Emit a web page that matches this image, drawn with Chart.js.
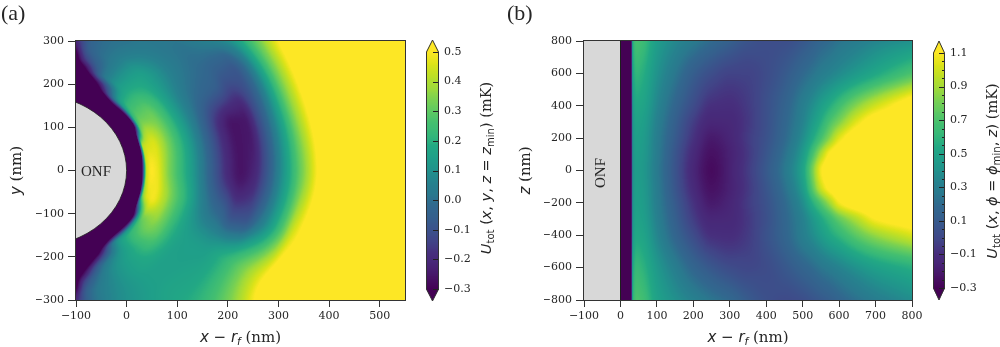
<!DOCTYPE html>
<html>
<head>
<meta charset="utf-8">
<script src="https://cdn.jsdelivr.net/npm/chart.js@4.4.1/dist/chart.umd.min.js"></script>
<style>
  html, body { margin: 0; padding: 0; background: #fff; }
  #wrap { position: relative; width: 1000px; height: 347px; overflow: hidden; }
  #wrap canvas { position: absolute; left: 0; top: 0; }
</style>
</head>
<body>
<div id="wrap">
  <canvas id="panelA" width="1000" height="347"></canvas>
  <canvas id="barA" width="1000" height="347"></canvas>
  <canvas id="panelB" width="1000" height="347"></canvas>
  <canvas id="barB" width="1000" height="347"></canvas>
</div>
<script>
// ---------- panel (a): U_tot(x, y, z = z_min) in mK ----------
// sampled on a polar grid around the fibre axis: angle (deg) x depth from the fibre surface (nm)
const fiberRadiusA = 175;          // nm, fibre cross-section seen in the x-y plane
const angleGridA = [78, 70, 60, 45, 30, 15, 0, -15, -30, -45, -60, -70, -78];
const depthGridA = [0, 20, 30, 40, 50, 60, 80, 100, 125, 150, 175, 200, 225, 250, 275, 300, 325, 350, 400, 450, 550, 750];
const potentialA = [
  [-0.6, -0.6, -0.6, -0.6, -0.6, -0.6, -0.6, -0.6, -0.35, -0.2, -0.1, -0.04, 0.0, 0.03, 0.06, 0.1, 0.14, 0.18, 0.28, 0.4, 0.6, 0.6],
  [-0.6, -0.6, -0.6, -0.6, -0.6, -0.55, -0.35, -0.15, -0.05, -0.03, -0.02, 0.0, 0.02, 0.05, 0.08, 0.12, 0.16, 0.2, 0.28, 0.4, 0.6, 0.6],
  [-0.6, -0.6, -0.6, -0.55, -0.4, -0.27, 0.0, 0.02, 0.03, 0.02, 0.01, 0.02, 0.03, 0.05, 0.08, 0.12, 0.16, 0.2, 0.3, 0.45, 0.6, 0.6],
  [-0.6, -0.6, -0.5, -0.25, 0.1, 0.17, 0.19, 0.18, 0.15, 0.1, 0.05, 0.02, 0.01, 0.03, 0.07, 0.12, 0.18, 0.25, 0.4, 0.55, 0.6, 0.6],
  [-0.6, -0.6, -0.6, -0.35, 0.25, 0.32, 0.32, 0.26, 0.15, 0.06, 0.0, -0.03, -0.05, -0.09, -0.09, 0.0, 0.17, 0.33, 0.55, 0.6, 0.6, 0.6],
  [-0.6, -0.6, -0.5, 0.42, 0.45, 0.46, 0.38, 0.28, 0.16, 0.04, -0.08, -0.2, -0.26, -0.25, -0.12, 0.03, 0.2, 0.37, 0.58, 0.6, 0.6, 0.6],
  [-0.6, -0.6, -0.32, 0.45, 0.5, 0.48, 0.36, 0.26, 0.15, 0.03, -0.09, -0.2, -0.26, -0.22, -0.1, 0.05, 0.2, 0.35, 0.58, 0.6, 0.6, 0.6],
  [-0.6, -0.6, -0.45, 0.35, 0.47, 0.49, 0.41, 0.31, 0.2, 0.09, 0.01, -0.04, -0.11, -0.1, 0.0, 0.12, 0.27, 0.45, 0.6, 0.6, 0.6, 0.6],
  [-0.6, -0.6, -0.5, -0.3, 0.15, 0.3, 0.34, 0.3, 0.2, 0.15, 0.14, 0.14, 0.17, 0.22, 0.29, 0.37, 0.46, 0.55, 0.6, 0.6, 0.6, 0.6],
  [-0.6, -0.6, -0.5, -0.2, 0.1, 0.15, 0.17, 0.18, 0.17, 0.15, 0.15, 0.16, 0.17, 0.19, 0.22, 0.26, 0.3, 0.35, 0.45, 0.55, 0.6, 0.6],
  [-0.6, -0.6, -0.6, -0.5, -0.38, -0.22, 0.0, 0.06, 0.08, 0.09, 0.1, 0.11, 0.12, 0.14, 0.17, 0.2, 0.24, 0.28, 0.38, 0.5, 0.6, 0.6],
  [-0.6, -0.6, -0.6, -0.6, -0.6, -0.5, -0.3, -0.12, -0.02, 0.0, 0.02, 0.04, 0.06, 0.08, 0.11, 0.14, 0.18, 0.22, 0.3, 0.42, 0.6, 0.6],
  [-0.6, -0.6, -0.6, -0.6, -0.6, -0.6, -0.6, -0.6, -0.35, -0.2, -0.1, -0.04, 0.0, 0.03, 0.06, 0.1, 0.15, 0.2, 0.3, 0.42, 0.6, 0.6]
];
const xTicksA = [-100, 0, 100, 200, 300, 400, 500];
const yTicksA = [-300, -200, -100, 0, 100, 200, 300];
const barTicksA = [-0.3, -0.2, -0.1, 0.0, 0.1, 0.2, 0.3, 0.4, 0.5];

// ---------- panel (b): U_tot(x, phi = phi_min, z) in mK ----------
const xGridB = [0, 28, 34, 45, 60, 100, 150, 200, 250, 300, 350, 400, 450, 500, 525, 550, 575, 600, 650, 700, 800];
const zGridB = [800, 600, 400, 300, 200, 100, 0, -100, -200, -300, -400, -600, -800];
const potentialB = [
  [-0.5, -0.5, 0.55, 0.68, 0.65, 0.47, 0.36, 0.28, 0.2, 0.13, 0.06, 0.03, 0.03, 0.08, 0.12, 0.17, 0.2, 0.24, 0.29, 0.34, 0.4],
  [-0.5, -0.5, 0.5, 0.6, 0.57, 0.41, 0.26, 0.12, 0.03, -0.02, -0.02, 0.02, 0.09, 0.19, 0.24, 0.29, 0.33, 0.37, 0.45, 0.53, 0.7],
  [-0.5, -0.5, 0.43, 0.53, 0.51, 0.35, 0.17, 0.02, -0.09, -0.1, -0.05, 0.04, 0.15, 0.3, 0.38, 0.47, 0.56, 0.66, 0.85, 1.0, 1.2],
  [-0.5, -0.5, 0.41, 0.5, 0.48, 0.32, 0.13, -0.04, -0.14, -0.13, -0.06, 0.04, 0.17, 0.33, 0.44, 0.56, 0.7, 0.82, 1.05, 1.18, 1.25],
  [-0.5, -0.5, 0.4, 0.48, 0.46, 0.3, 0.1, -0.08, -0.2, -0.15, -0.05, 0.05, 0.19, 0.38, 0.52, 0.68, 0.86, 1.04, 1.2, 1.25, 1.3],
  [-0.5, -0.5, 0.39, 0.47, 0.45, 0.29, 0.07, -0.12, -0.24, -0.17, -0.06, 0.07, 0.23, 0.45, 0.66, 0.92, 1.12, 1.2, 1.25, 1.3, 1.3],
  [-0.5, -0.5, 0.38, 0.46, 0.44, 0.28, 0.06, -0.14, -0.26, -0.17, -0.05, 0.09, 0.26, 0.5, 0.78, 1.08, 1.2, 1.25, 1.3, 1.3, 1.3],
  [-0.5, -0.5, 0.39, 0.47, 0.45, 0.29, 0.07, -0.12, -0.24, -0.17, -0.06, 0.07, 0.23, 0.46, 0.72, 1.0, 1.15, 1.22, 1.27, 1.3, 1.3],
  [-0.5, -0.5, 0.4, 0.48, 0.46, 0.3, 0.1, -0.08, -0.2, -0.15, -0.05, 0.05, 0.19, 0.38, 0.55, 0.72, 0.9, 1.08, 1.2, 1.25, 1.3],
  [-0.5, -0.5, 0.41, 0.5, 0.48, 0.32, 0.13, -0.04, -0.14, -0.13, -0.06, 0.04, 0.17, 0.32, 0.42, 0.53, 0.64, 0.76, 0.94, 1.1, 1.2],
  [-0.5, -0.5, 0.43, 0.53, 0.51, 0.35, 0.17, 0.02, -0.09, -0.1, -0.05, 0.05, 0.16, 0.3, 0.37, 0.45, 0.53, 0.6, 0.75, 0.87, 1.02],
  [-0.5, -0.5, 0.52, 0.62, 0.59, 0.44, 0.3, 0.17, 0.08, 0.02, 0.0, 0.02, 0.08, 0.16, 0.2, 0.25, 0.29, 0.33, 0.41, 0.48, 0.57],
  [-0.5, -0.5, 0.57, 0.7, 0.67, 0.5, 0.4, 0.32, 0.25, 0.19, 0.1, 0.04, 0.01, 0.03, 0.06, 0.09, 0.12, 0.16, 0.23, 0.29, 0.38]
];
const xTicksB = [-100, 0, 100, 200, 300, 400, 500, 600, 700, 800];
const zTicksB = [-800, -600, -400, -200, 0, 200, 400, 600, 800];
const barTicksB = [-0.3, -0.1, 0.1, 0.3, 0.5, 0.7, 0.9, 1.1];
const barMinorB = [-0.25, -0.2, -0.15, -0.05, 0.0, 0.05, 0.15, 0.2, 0.25, 0.35, 0.4, 0.45, 0.55, 0.6, 0.65, 0.75, 0.8, 0.85, 0.95, 1.0, 1.05];
const fiberEdgeB = [-100, 0];     // nm, fibre region in the x-z plane

// ---------- viridis colour map ----------
const viridis = ['#440154','#471365','#482475','#472f7d','#414487','#3b528b','#355f8d','#31688e','#2a788e','#26828e',
                 '#21918c','#1f9e89','#22a884','#35b779','#44bf70','#5ec962','#7ad151','#a0da39','#bddf26','#dde318','#fde725'];
const lut = (() => {
  const rgb = viridis.map(h => [1, 3, 5].map(i => parseInt(h.substr(i, 2), 16)));
  const out = [];
  for (let k = 0; k < 256; k++) {
    const p = k / 255 * (rgb.length - 1), i = Math.min(Math.floor(p), rgb.length - 2), f = p - i;
    out.push(rgb[i].map((c, n) => Math.round(c + (rgb[i + 1][n] - c) * f)));
  }
  return out;
})();
function colorOf(v, vmin, vmax) {
  let t = (v - vmin) / (vmax - vmin);
  t = Math.max(0, Math.min(1, t));
  return lut[Math.round(t * 255)];
}

const INK = '#262626';
const SERIF = '"DejaVu Serif", serif';
const SANS = '"DejaVu Sans", sans-serif';
const TIMES = '"Liberation Serif", "Times New Roman", serif';
const minusFmt = v => (v < 0 ? '\u2212' : '') + Math.abs(v);
const barFmt = v => (v < -1e-9 ? '\u2212' : '') + Math.abs(v).toFixed(1);

// text made of runs with their own fonts (italic symbols, subscripts)
function drawRuns(ctx, runs, x, y, angle) {
  ctx.save();
  ctx.translate(x, y);
  ctx.rotate(angle || 0);
  ctx.fillStyle = INK;
  ctx.textBaseline = 'alphabetic';
  ctx.textAlign = 'left';
  let w = 0;
  runs.forEach(r => { ctx.font = r.f; r.w = ctx.measureText(r.t).width; w += r.w; });
  let cx = -w / 2;
  runs.forEach(r => { ctx.font = r.f; ctx.fillText(r.t, cx, r.dy || 0); cx += r.w; });
  ctx.restore();
}
function mathRuns(size) {
  return {
    it: t => ({ t, f: `italic ${size}px ${SANS}` }),
    rm: t => ({ t, f: `${size}px ${SANS}` }),
    sub: t => ({ t, f: `${(size * 0.7).toFixed(1)}px ${SANS}`, dy: size * 0.22 }),
    subIt: t => ({ t, f: `italic ${(size * 0.7).toFixed(1)}px ${SANS}`, dy: size * 0.22 }),
    txt: t => ({ t, f: `${size}px ${SERIF}` })
  };
}

// ---------- smooth shading of a gridded field (monotone cubic, no overshoot) ----------
function pchipSlopes(xs, ys) {
  const n = xs.length, h = [], d = [], m = new Array(n);
  for (let i = 0; i < n - 1; i++) { h[i] = xs[i + 1] - xs[i]; d[i] = (ys[i + 1] - ys[i]) / h[i]; }
  m[0] = d[0]; m[n - 1] = d[n - 2];
  for (let i = 1; i < n - 1; i++) {
    if (d[i - 1] * d[i] <= 0) m[i] = 0;
    else {
      const w1 = 2 * h[i] + h[i - 1], w2 = h[i] + 2 * h[i - 1];
      m[i] = (w1 + w2) / (w1 / d[i - 1] + w2 / d[i]);
    }
  }
  return m;
}
function pchipAt(xs, ys, m, x) {
  const n = xs.length;
  if (x <= xs[0]) return ys[0];
  if (x >= xs[n - 1]) return ys[n - 1];
  let i = 0;
  while (xs[i + 1] < x) i++;
  const h = xs[i + 1] - xs[i], t = (x - xs[i]) / h, t2 = t * t, t3 = t2 * t;
  return (2 * t3 - 3 * t2 + 1) * ys[i] + (t3 - 2 * t2 + t) * h * m[i] + (-2 * t3 + 3 * t2) * ys[i + 1] + (t3 - t2) * h * m[i + 1];
}
// us: column coordinates (ascending); vsTopDown / rowsTopDown: row coordinates and rows, first row on top
function makeShader(us, vsTopDown, rowsTopDown, du, dv) {
  const vs = vsTopDown.slice().reverse();
  const rows = rowsTopDown.slice().reverse();
  const colSlopes = us.map((_, c) => pchipSlopes(vs, rows.map(r => r[c])));
  const u0 = us[0], v0 = vs[0];
  const nu = Math.round((us[us.length - 1] - u0) / du) + 1;
  const nv = Math.round((vs[vs.length - 1] - v0) / dv) + 1;
  const table = new Float32Array(nu * nv);
  for (let j = 0; j < nv; j++) {
    const v = v0 + j * dv;
    const line = us.map((_, c) => pchipAt(vs, rows.map(r => r[c]), colSlopes[c], v));
    const ms = pchipSlopes(us, line);
    for (let i = 0; i < nu; i++) table[j * nu + i] = pchipAt(us, line, ms, u0 + i * du);
  }
  return (u, v) => {
    let fu = (u - u0) / du, fv = (v - v0) / dv;
    fu = Math.max(0, Math.min(nu - 1.001, fu));
    fv = Math.max(0, Math.min(nv - 1.001, fv));
    const i = Math.floor(fu), j = Math.floor(fv), a = fu - i, b = fv - j;
    const k = j * nu + i;
    const top = table[k] + (table[k + 1] - table[k]) * a;
    const bot = table[k + nu] + (table[k + nu + 1] - table[k + nu]) * a;
    return top + (bot - top) * b;
  };
}

function fieldPlugin(spec) {
  return {
    id: 'field',
    beforeDatasetsDraw(chart) {
      const { ctx, chartArea: a, scales: { x, y } } = chart;
      const L = Math.round(a.left), T = Math.round(a.top);
      const W = Math.round(a.right) - L, H = Math.round(a.bottom) - T;
      const off = document.createElement('canvas');
      off.width = W; off.height = H;
      const octx = off.getContext('2d');
      const img = octx.createImageData(W, H);
      const xv = [];
      for (let i = 0; i < W; i++) xv.push(x.getValueForPixel(L + i + 0.5));
      for (let j = 0; j < H; j++) {
        const yv = y.getValueForPixel(T + j + 0.5);
        for (let i = 0; i < W; i++) {
          const col = colorOf(spec.valueAt(xv[i], yv), spec.vmin, spec.vmax);
          const k = (j * W + i) * 4;
          img.data[k] = col[0]; img.data[k + 1] = col[1]; img.data[k + 2] = col[2]; img.data[k + 3] = 255;
        }
      }
      octx.putImageData(img, 0, 0);
      ctx.drawImage(off, L, T);
      // fibre cross-section on top of the field
      ctx.save();
      ctx.beginPath();
      ctx.rect(a.left, a.top, a.right - a.left, a.bottom - a.top);
      ctx.clip();
      spec.fiber(ctx, x, y, a);
      ctx.restore();
      // frame on all four sides
      ctx.save();
      ctx.strokeStyle = '#333';
      ctx.lineWidth = 1;
      ctx.strokeRect(L - 0.5, T - 0.5, W + 1, H + 1);
      ctx.restore();
    },
    afterDraw(chart) {
      spec.labels(chart.ctx, chart);
    }
  };
}

function panelChart(id, opt) {
  const tickFont = { family: SERIF, size: 11 };
  return new Chart(document.getElementById(id), {
    type: 'scatter',
    data: { datasets: [{ data: [], pointRadius: 0 }] },
    options: {
      responsive: false, animation: false, events: [],
      layout: { padding: { left: opt.area[0] - 40, top: opt.area[1], right: 1000 - opt.area[2], bottom: 347 - opt.area[3] - 26 } },
      plugins: { legend: { display: false }, tooltip: { enabled: false } },
      scales: {
        x: {
          type: 'linear', min: opt.xRange[0], max: opt.xRange[1],
          afterBuildTicks: sc => { sc.ticks = opt.xTicks.map(v => ({ value: v })); },
          afterFit: sc => { sc.height = 26; },
          grid: { drawOnChartArea: false, tickLength: 7, color: '#333', lineWidth: 1 },
          border: { color: '#333' },
          ticks: { font: tickFont, color: INK, padding: 3, maxRotation: 0, autoSkip: false, callback: minusFmt }
        },
        y: {
          type: 'linear', min: opt.yRange[0], max: opt.yRange[1],
          afterBuildTicks: sc => { sc.ticks = opt.yTicks.map(v => ({ value: v })); },
          afterFit: sc => { sc.width = 40; },
          grid: { drawOnChartArea: false, tickLength: 8, color: '#333', lineWidth: 1 },
          border: { color: '#333' },
          ticks: { font: tickFont, color: INK, padding: 4, autoSkip: false, callback: minusFmt }
        }
      }
    },
    plugins: [fieldPlugin(opt.field)]
  });
}

function colorbarChart(id, opt) {
  return new Chart(document.getElementById(id), {
    type: 'scatter',
    data: { datasets: [{ data: [], pointRadius: 0 }] },
    options: {
      responsive: false, animation: false, events: [],
      layout: { padding: { left: opt.area[0], top: opt.area[1], right: 1000 - opt.area[2] - 36, bottom: 347 - opt.area[3] } },
      plugins: { legend: { display: false }, tooltip: { enabled: false } },
      scales: {
        x: { display: false, min: 0, max: 1 },
        y: {
          type: 'linear', position: 'right', min: opt.vmin, max: opt.vmax,
          afterBuildTicks: sc => { sc.ticks = opt.ticks.map(v => ({ value: v })); },
          afterFit: sc => { sc.width = 36; },
          grid: { display: false, drawTicks: false },
          border: { display: false },
          ticks: { font: { family: SERIF, size: 11 }, color: INK, padding: 5, autoSkip: false, callback: barFmt }
        }
      }
    },
    plugins: [{
      id: 'colorbar',
      beforeDatasetsDraw(chart) {
        const { ctx, chartArea: a, scales: { y } } = chart;
        const L = Math.round(a.left), R = Math.round(a.right);
        const T = Math.round(a.top), B = Math.round(a.bottom);
        const ext = opt.extend;
        for (let j = T; j < B; j++) {
          const c = colorOf(y.getValueForPixel(j + 0.5), opt.vmin, opt.vmax);
          ctx.fillStyle = `rgb(${c[0]},${c[1]},${c[2]})`;
          ctx.fillRect(L, j, R - L, 1);
        }
        const top = lut[255], bot = lut[0];
        ctx.fillStyle = `rgb(${top[0]},${top[1]},${top[2]})`;
        ctx.beginPath(); ctx.moveTo(L, T); ctx.lineTo((L + R) / 2, T - ext); ctx.lineTo(R, T); ctx.closePath(); ctx.fill();
        ctx.fillStyle = `rgb(${bot[0]},${bot[1]},${bot[2]})`;
        ctx.beginPath(); ctx.moveTo(L, B); ctx.lineTo((L + R) / 2, B + ext); ctx.lineTo(R, B); ctx.closePath(); ctx.fill();
        // inward tick marks
        ctx.strokeStyle = '#222';
        ctx.lineWidth = 1;
        const mark = (v, len) => {
          const py = Math.round(y.getPixelForValue(v)) + 0.5;
          ctx.beginPath(); ctx.moveTo(R, py); ctx.lineTo(R - len, py); ctx.stroke();
        };
        (opt.minor || []).forEach(v => mark(v, 3));
        opt.ticks.forEach(v => mark(v, 6));
        // outline including the extension triangles
        ctx.strokeStyle = '#333';
        ctx.beginPath();
        ctx.moveTo(L + 0.5, T); ctx.lineTo((L + R) / 2, T - ext); ctx.lineTo(R - 0.5, T);
        ctx.lineTo(R - 0.5, B); ctx.lineTo((L + R) / 2, B + ext); ctx.lineTo(L + 0.5, B); ctx.closePath();
        ctx.stroke();
      },
      afterDraw(chart) {
        drawRuns(chart.ctx, opt.label, opt.labelPos[0], opt.labelPos[1], -Math.PI / 2);
      }
    }]
  });
}

// ---------- build panel (a) ----------
const shadeA = makeShader(depthGridA, angleGridA, potentialA, 1, 0.5);
panelChart('panelA', {
  area: [76, 41, 405, 300],
  xRange: [-100, 550], yRange: [-300, 300],
  xTicks: xTicksA, yTicks: yTicksA,
  field: {
    vmin: -0.3, vmax: 0.5,
    valueAt(xv, yv) {
      const dx = xv + fiberRadiusA;
      const depth = Math.hypot(dx, yv) - fiberRadiusA;
      const angle = Math.atan2(yv, dx) * 180 / Math.PI;
      return shadeA(depth, angle);
    },
    fiber(ctx, x, y) {
      const cx = x.getPixelForValue(-fiberRadiusA), cy = y.getPixelForValue(0);
      const rx = x.getPixelForValue(0) - cx, ry = cy - y.getPixelForValue(fiberRadiusA);
      ctx.beginPath();
      ctx.ellipse(cx, cy, rx, ry, 0, 0, Math.PI * 2);
      ctx.fillStyle = '#d8d8d8';
      ctx.fill();
      ctx.strokeStyle = '#1e1e1e';
      ctx.lineWidth = 0.8;
      ctx.stroke();
    },
    labels(ctx, chart) {
      const m = mathRuns(15);
      const a = chart.chartArea;
      drawRuns(ctx, [m.it('x'), m.rm(' \u2212 '), m.it('r'), m.subIt('f'), m.txt(' (nm)')], (a.left + a.right) / 2, 342, 0);
      drawRuns(ctx, [m.it('y'), m.txt(' (nm)')], 21, (a.top + a.bottom) / 2, -Math.PI / 2);
      ctx.save();
      ctx.fillStyle = INK;
      ctx.font = `22px ${TIMES}`;
      ctx.fillText('(a)', 1, 20);
      ctx.font = `15px ${TIMES}`;
      ctx.fillText('ONF', 81, 176);
      ctx.restore();
    }
  }
});
colorbarChart('barA', {
  area: [426, 52, 439, 289], vmin: -0.3, vmax: 0.5, extend: 12,
  ticks: barTicksA,
  label: (() => { const m = mathRuns(14.5); return [m.it('U'), m.sub('tot'), m.rm(' ('), m.it('x'), m.rm(', '), m.it('y'), m.rm(', '), m.it('z'), m.rm(' = '), m.it('z'), m.sub('min'), m.rm(')'), m.txt(' (mK)')]; })(),
  labelPos: [491, 168]
});

// ---------- build panel (b) ----------
const shadeB = makeShader(xGridB, zGridB, potentialB, 1, 4);
panelChart('panelB', {
  area: [584, 41, 912, 300],
  xRange: [-100, 800], yRange: [-800, 800],
  xTicks: xTicksB, yTicks: zTicksB,
  field: {
    vmin: -0.3, vmax: 1.1,
    valueAt: (xv, zv) => shadeB(xv, zv),
    fiber(ctx, x, y, a) {
      const x0 = x.getPixelForValue(fiberEdgeB[0]), x1 = x.getPixelForValue(fiberEdgeB[1]);
      ctx.fillStyle = '#d8d8d8';
      ctx.fillRect(x0, a.top, x1 - x0, a.bottom - a.top);
      ctx.strokeStyle = '#1e1e1e';
      ctx.lineWidth = 1;
      ctx.beginPath();
      ctx.moveTo(Math.round(x1) + 0.5, a.top); ctx.lineTo(Math.round(x1) + 0.5, a.bottom);
      ctx.stroke();
    },
    labels(ctx, chart) {
      const m = mathRuns(15);
      const a = chart.chartArea;
      drawRuns(ctx, [m.it('x'), m.rm(' \u2212 '), m.it('r'), m.subIt('f'), m.txt(' (nm)')], (a.left + a.right) / 2, 342, 0);
      drawRuns(ctx, [m.it('z'), m.txt(' (nm)')], 530, (a.top + a.bottom) / 2, -Math.PI / 2);
      ctx.save();
      ctx.fillStyle = INK;
      ctx.font = `22px ${TIMES}`;
      ctx.fillText('(b)', 507, 20);
      ctx.restore();
      ctx.save();
      ctx.translate(605, 173);
      ctx.rotate(-Math.PI / 2);
      ctx.fillStyle = INK;
      ctx.font = `15px ${TIMES}`;
      ctx.textAlign = 'center';
      ctx.fillText('ONF', 0, 0);
      ctx.restore();
    }
  }
});
colorbarChart('barB', {
  area: [933, 53, 945, 288], vmin: -0.3, vmax: 1.1, extend: 12,
  ticks: barTicksB, minor: barMinorB,
  label: (() => { const m = mathRuns(14.5); return [m.it('U'), m.sub('tot'), m.rm(' ('), m.it('x'), m.rm(', '), m.it('\u03d5'), m.rm(' = '), m.it('\u03d5'), m.sub('min'), m.rm(', '), m.it('z'), m.rm(')'), m.txt(' (mK)')]; })(),
  labelPos: [997, 171]
});
</script>
</body>
</html>
